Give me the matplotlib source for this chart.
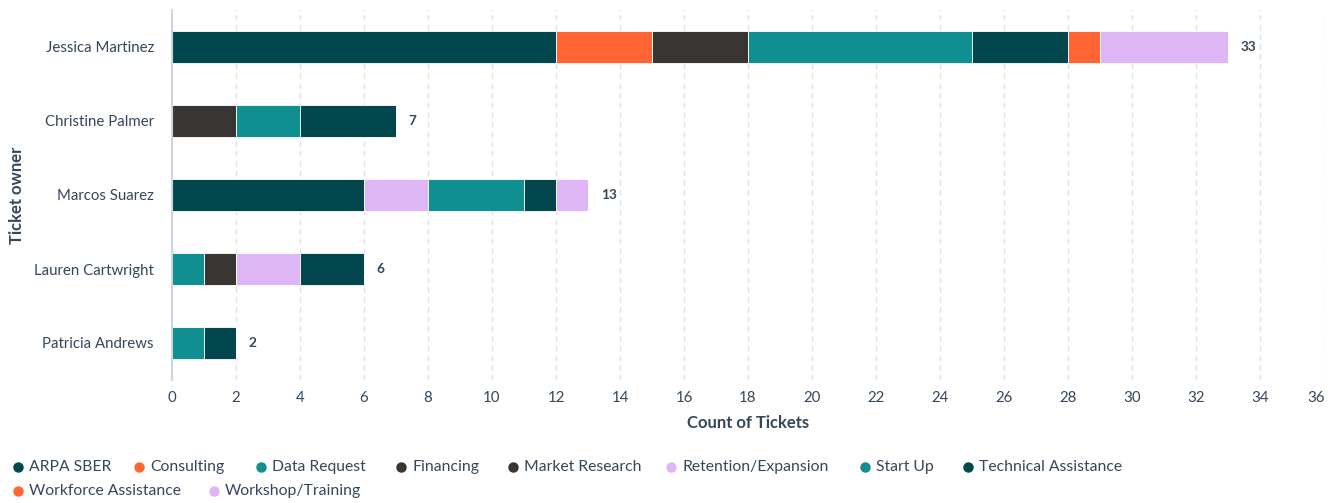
import matplotlib
matplotlib.use('Agg')
import matplotlib.pyplot as plt
from matplotlib.lines import Line2D
from matplotlib.transforms import ScaledTranslation

owners = ['Jessica Martinez', 'Christine Palmer', 'Marcos Suarez', 'Lauren Cartwright', 'Patricia Andrews']
categories = ['ARPA SBER', 'Consulting', 'Data Request', 'Financing', 'Market Research',
              'Retention/Expansion', 'Start Up', 'Technical Assistance', 'Workforce Assistance',
              'Workshop/Training']
colors = ['#02474e', '#ff6633', '#0f8f8f', '#383533', '#383533',
          '#deb5f5', '#0f8f8f', '#02474e', '#ff6633', '#deb5f5']

# counts per category, one value per owner (same order as owners)
arpa_sber = [12, 0, 6, 0, 0]
consulting = [3, 0, 0, 0, 0]
data_request = [0, 0, 0, 1, 0]
financing = [3, 2, 0, 1, 0]
market_research = [0, 0, 0, 0, 0]
retention = [0, 0, 2, 2, 0]
start_up = [7, 2, 3, 0, 1]
technical = [3, 3, 1, 2, 1]
workforce = [1, 0, 0, 0, 0]
workshop = [4, 0, 1, 0, 0]
series = [arpa_sber, consulting, data_request, financing, market_research,
          retention, start_up, technical, workforce, workshop]

TXT = '#33475b'
plt.rcParams['font.family'] = ['Lato', 'DejaVu Sans']

W, H = 1335, 503
fig = plt.figure(figsize=(W / 100, H / 100), dpi=100)
ax = fig.add_axes([172 / W, 1 - 380 / H, (1324 - 172) / W, 370 / H])

ypos = list(range(len(owners)))
left = [0] * len(owners)
for vals, col in zip(series, colors):
    ax.barh(ypos, vals, left=left, height=0.44, color=col, edgecolor='white', linewidth=0.6)
    left = [l + v for l, v in zip(left, vals)]

for y, tot in zip(ypos, left):
    ax.text(tot + 0.4, y, str(tot), va='center', ha='left', fontsize=9.8,
            fontweight='bold', color=TXT)

ax.set_xlim(0, 36)
ax.set_ylim(4.5, -0.5)
ax.set_xticks(range(0, 37, 2))
ax.set_yticks(ypos)
ax.set_yticklabels(owners)
ax.tick_params(axis='both', length=0, labelsize=10.8, colors=TXT)
ax.tick_params(axis='x', pad=8)
ax.tick_params(axis='y', pad=13)
ax.grid(axis='x', linestyle=(0, (4, 3)), color='#dfe3eb', linewidth=1)
ax.set_axisbelow(True)
for s in ['top', 'right', 'bottom']:
    ax.spines[s].set_visible(False)
ax.spines['left'].set_color('#cbd6e2')
ax.spines['left'].set_linewidth(1.5)

# last x label is nudged inward so it stays inside the frame
last = ax.get_xticklabels()[-1]
last.set_transform(last.get_transform() + ScaledTranslation(-0.08, 0, fig.dpi_scale_trans))

ax.set_xlabel('Count of Tickets', fontsize=12, fontweight='bold', color=TXT, labelpad=7)
fig.text(17 / W, 1 - 195 / H, 'Ticket owner', rotation=90, va='center', ha='center',
         fontsize=12, fontweight='bold', color=TXT)

# legend, laid out in two rows like the original
leg_pos = [(18, 467), (139, 467), (261, 467), (401, 467), (513, 467),
           (671, 467), (865, 467), (968, 467), (18, 491), (214, 491)]
for (px, py), name, col in zip(leg_pos, categories, colors):
    fig.add_artist(Line2D([px / W], [1 - py / H], marker='o', markersize=6.5,
                          color=col, linestyle='none', transform=fig.transFigure))
    fig.text((px + 11) / W, 1 - py / H, name, va='center', ha='left', fontsize=11.3, color=TXT)

fig.savefig('out.png', dpi=100)
